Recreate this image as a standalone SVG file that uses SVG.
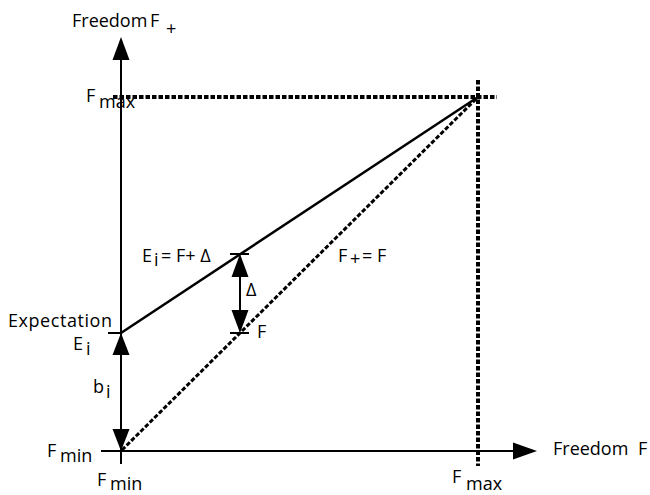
<svg xmlns="http://www.w3.org/2000/svg" width="650" height="495" viewBox="0 0 650 495">
<style>
text{font-family:"Open Sans","Liberation Sans",sans-serif;font-size:18px;fill:#000}
.ax{stroke:#000;stroke-width:2;fill:none}
.sol{stroke:#000;stroke-width:2.5;fill:none}
.dash{stroke:#000;stroke-width:4;stroke-dasharray:4.5 2;fill:none}
.tick{stroke:#000;stroke-width:2}
</style>
<rect width="650" height="495" fill="#fff"/>
<g id="connectors">
<line class="ax" x1="121" y1="464" x2="121" y2="50"/>
<path d="M121,37 L112.5,60 L129.5,60 Z" fill="#000"/>
<line class="ax" x1="101" y1="451" x2="520" y2="451"/>
<path d="M537,451 L513,442.5 L513,459.5 Z" fill="#000"/>
<line class="dash" x1="113" y1="97" x2="497" y2="97"/>
<line class="dash" x1="478" y1="80" x2="478" y2="466"/>
<line class="dash" x1="122" y1="450" x2="478" y2="97" style="stroke-width:3"/>
<line class="sol" x1="121" y1="333" x2="478" y2="97"/>
<line class="tick" x1="108" y1="333" x2="121" y2="333"/>
<line class="tick" x1="230" y1="254" x2="249" y2="254"/>
<line class="tick" x1="230" y1="333" x2="249" y2="333"/>
<line class="ax" x1="121" y1="350" x2="121" y2="434"/>
<path d="M121,333 L112.5,355 L129.5,355 Z" fill="#000"/>
<path d="M121,451 L112.5,429 L129.5,429 Z" fill="#000"/>
<line class="ax" x1="240" y1="270" x2="240" y2="317"/>
<path d="M240,254 L231.5,277 L248.5,277 Z" fill="#000"/>
<path d="M240,333 L231.5,310 L248.5,310 Z" fill="#000"/>
</g>
<g id="label-yaxis"><text x="72" y="27">Freedom</text><text x="150" y="27">F</text><text x="166" y="35">+</text></g>
<g id="label-fmax-left"><text x="86" y="102">F</text><text x="99" y="108">max</text></g>
<g id="label-expectation"><text x="8" y="327" textLength="104">Expectation</text><text x="73" y="350">E</text><text x="86" y="355">i</text></g>
<g id="label-bi"><text x="93" y="393">b</text><text x="106" y="398">i</text></g>
<g id="label-fmin-left"><text x="47" y="457">F</text><text x="60" y="462">min</text></g>
<g id="label-fmin-bottom"><text x="97" y="486">F</text><text x="110" y="490">min</text></g>
<g id="label-ei"><text x="142" y="262">E</text><text x="154" y="266">i</text><text x="161" y="262">= F+ Δ</text></g>
<g id="label-delta"><text x="246" y="296">Δ</text></g>
<g id="label-f"><text x="257" y="338">F</text></g>
<g id="label-fplus"><text x="338" y="262">F</text><text x="350" y="265">+</text><text x="362" y="262">= F</text></g>
<g id="label-xaxis"><text x="553" y="455">Freedom</text><text x="638" y="455">F</text></g>
<g id="label-fmax-bottom"><text x="452" y="483">F</text><text x="466" y="490">max</text></g>
</svg>
